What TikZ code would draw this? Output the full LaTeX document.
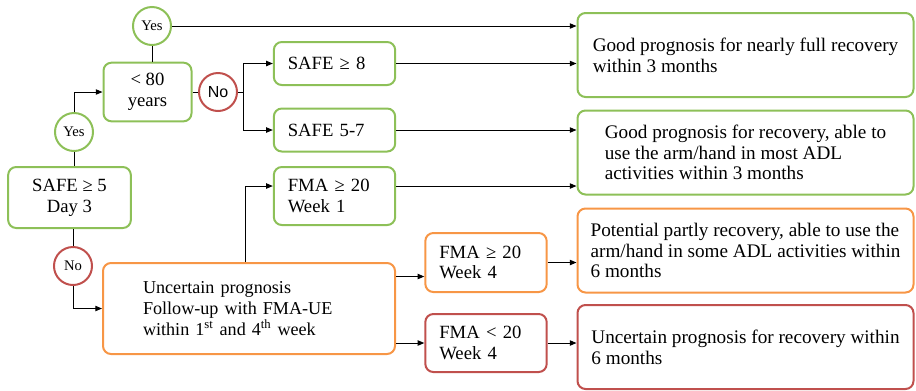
\documentclass[tikz,border=0pt]{standalone}
\usepackage{fontspec}
\setmainfont{Liberation Serif}
\newfontfamily\sansno{Liberation Sans}
\usetikzlibrary{arrows.meta}
\definecolor{boxgreen}{RGB}{141,192,88}
\definecolor{boxorange}{RGB}{247,150,70}
\definecolor{boxred}{RGB}{192,80,77}
\begin{document}
\begin{tikzpicture}[x=0.75pt,y=-0.75pt,line width=0.75pt,
  >={Triangle[length=5pt,width=4pt]},
  every node/.style={font=\fontsize{14}{15.5}\selectfont},
  box/.style={draw,line width=1.5pt,rounded corners=6pt,align=center},
  gbox/.style={box,draw=boxgreen},
  obox/.style={box,draw=boxorange},
  rbox/.style={box,draw=boxred},
  answer/.style={circle,draw,line width=1.5pt,minimum size=28.5pt,inner sep=0pt,
    font=\fontsize{11}{12}\selectfont},
  yes/.style={answer,draw=boxgreen},
  no/.style={answer,draw=boxred},
  outcome/.style={minimum width=252pt,minimum height=63pt,align=left,
    font=\fontsize{14.4}{15.5}\selectfont},
  check/.style={minimum width=91pt,text width=70pt,align=left}]
\useasboundingbox (0,0) rectangle (916,390);
\node[yes] (yesA) at (152,26) {Yes};
\node[gbox,minimum width=66pt,minimum height=44pt] (age) at (147.5,92) {< 80\\years};
\node[no,font=\sansno\fontsize{12}{12}\selectfont] (noA) at (218,92) {No};
\node[yes] (yesB) at (74,132) {Yes};
\node[gbox,minimum width=92pt,minimum height=45.75pt] (safe5) at (69.5,197.5) {SAFE ≥ 5\\Day 3};
\node[no] (noB) at (73,266) {No};
\node[gbox,check,minimum height=32.25pt] (safe8) at (334.5,63.5) {SAFE ≥ 8};
\node[gbox,check,minimum height=32.25pt] (safe57) at (334.5,130) {SAFE 5-7};
\node[gbox,check,minimum height=43.5pt] (fma1) at (334.5,196) {FMA ≥ 20\\Week 1};
\node[obox,minimum width=219pt,minimum height=68.25pt,text width=159pt,align=left,
  font=\fontsize{13.6}{16}\selectfont] (unc) at (249,308.5)
  {Uncertain prognosis\\Follow-up with FMA-UE\\within 1\textsuperscript{st} and 4\textsuperscript{th} week};
\node[obox,check,minimum height=44.25pt] (fma4a) at (486,262.5) {FMA ≥ 20\\Week 4};
\node[rbox,check,minimum height=43.5pt] (fma4b) at (486,343) {FMA < 20\\Week 4};
\foreach \name/\ypos/\kind/\words in {
    out1/55/gbox/{Good prognosis for nearly full recovery\\within 3 months},
    out2/152.5/gbox/{Good prognosis for recovery, able to\\use the arm/hand in most ADL\\activities within 3 months},
    out3/250.5/obox/{Potential partly recovery, able to use the\\arm/hand in some ADL activities within\\6 months},
    out4/347/rbox/{Uncertain prognosis for recovery within\\6 months}}
  \node[\kind,outcome] (\name) at (745.5,\ypos) {\words};
\draw (yesA) -- (yesA |- age.north);
\draw[->] (yesA) -- (yesA -| out1.west);
\draw (age) -- (noA);
\coordinate (split) at (243,92);
\draw (noA) -- (split);
\draw[->] (split) |- (safe8);
\draw[->] (split) |- (safe57);
\draw[->] (safe8) -- (safe8 -| out1.west);
\draw[->] (safe57) -- (safe57 -| out2.west);
\draw (yesB) -- (yesB |- safe5.north);
\draw[->] (yesB) |- (age);
\draw (noB) -- (noB |- safe5.south);
\draw[->] (noB) |- (unc);
\coordinate (inA) at ([yshift=7.5pt]fma1.west);
\coordinate (outA) at ([yshift=7.5pt]fma1.east);
\draw[->] ([xshift=-3pt]unc.north) |- (inA);
\draw[->] (outA) -- (outA -| out2.west);
\coordinate (inB) at ([yshift=-10.5pt]fma4a.west);
\draw[->] (inB -| unc.east) -- (inB);
\draw[->] (fma4b.west -| unc.east) -- (fma4b.west);
\draw[->] (fma4a) -- (fma4a -| out3.west);
\draw[->] (fma4b) -- (fma4b -| out4.west);
\end{tikzpicture}
\end{document}
